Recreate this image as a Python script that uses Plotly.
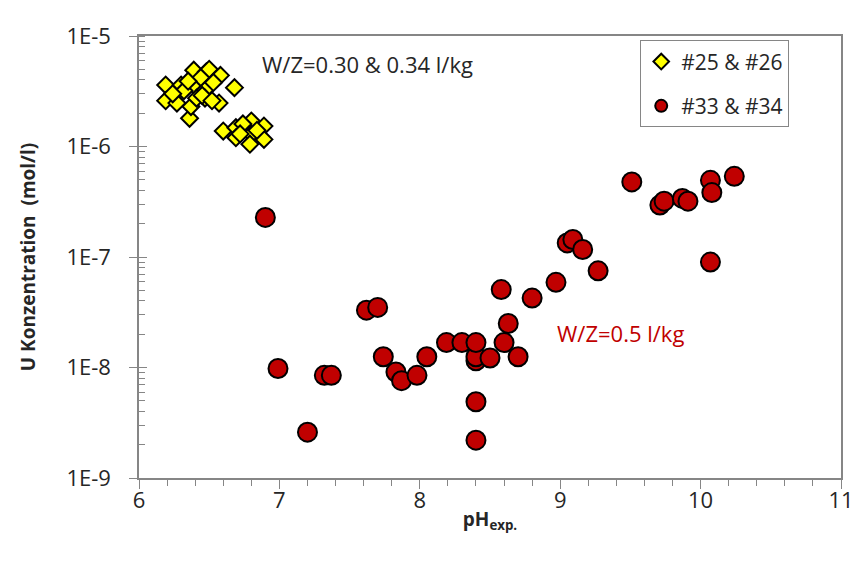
import plotly.graph_objects as go

# Yellow diamonds: #25 & #26 (W/Z = 0.30 & 0.34 l/kg)
ph_25_26 = [6.19, 6.19, 6.30, 6.27, 6.36, 6.39, 6.40, 6.37, 6.48, 6.50, 6.58, 6.47, 6.47, 6.57, 6.41, 6.68,
            6.32, 6.44, 6.53, 6.45, 6.24, 6.52, 6.35,
            6.60, 6.69, 6.80, 6.89, 6.80, 6.89, 6.69, 6.79, 6.74, 6.84, 6.72]
u_25_26 = [3.6e-6, 2.6e-6, 3.6e-6, 2.47e-6, 1.8e-6, 4.9e-6, 3.5e-6, 2.3e-6, 4.74e-6, 5.0e-6, 4.4e-6, 3.25e-6,
           2.74e-6, 2.47e-6, 2.74e-6, 3.41e-6,
           3.2e-6, 4.2e-6, 3.8e-6, 2.9e-6, 3.0e-6, 2.6e-6, 3.9e-6,
           1.38e-6, 1.48e-6, 1.7e-6, 1.53e-6, 1.29e-6, 1.16e-6, 1.2e-6, 1.05e-6, 1.6e-6, 1.4e-6, 1.3e-6]

# Red circles: #33 & #34 (W/Z = 0.5 l/kg)
ph_33_34 = [6.90, 6.99, 7.20, 7.32, 7.37, 7.62, 7.70, 7.74, 7.83, 7.87, 7.98, 8.05,
            8.19, 8.30, 8.40, 8.40, 8.40, 8.50, 8.40, 8.40, 8.58, 8.63, 8.60, 8.70, 8.80, 8.97,
            9.05, 9.09, 9.16, 9.27, 9.51, 9.71, 9.74, 9.87, 9.91, 10.07, 10.08, 10.24, 10.07]
u_33_34 = [2.28e-7, 9.8e-9, 2.6e-9, 8.5e-9, 8.5e-9, 3.3e-8, 3.5e-8, 1.25e-8, 9.1e-9, 7.6e-9, 8.5e-9, 1.25e-8,
           1.68e-8, 1.68e-8, 1.15e-8, 1.25e-8, 1.68e-8, 1.22e-8, 4.9e-9, 2.2e-9, 5.07e-8, 2.5e-8, 1.68e-8,
           1.25e-8, 4.25e-8, 5.9e-8,
           1.34e-7, 1.44e-7, 1.17e-7, 7.5e-8, 4.78e-7, 2.95e-7, 3.2e-7, 3.39e-7, 3.2e-7, 4.94e-7, 3.83e-7,
           5.37e-7, 9.0e-8]

x_ticks = [6, 7, 8, 9, 10, 11]
y_tickvals = [1e-9, 1e-8, 1e-7, 1e-6, 1e-5]
y_ticktext = ["1E-9", "1E-8", "1E-7", "1E-6", "1E-5"]

FONT = "Open Sans"
AXIS_COL = "#868686"
TXT = "#262626"

fig = go.Figure()
fig.add_trace(go.Scatter(
    x=ph_25_26, y=u_25_26, mode="markers", name="#25 & #26", legendgroup="a",
    marker=dict(symbol="diamond", size=13, color="#FFFF00", line=dict(color="black", width=2)),
))
fig.add_trace(go.Scatter(
    x=ph_33_34, y=u_33_34, mode="markers", name="#33 & #34", legendgroup="b",
    marker=dict(symbol="circle", size=19, color="#C00000", line=dict(color="black", width=2)),
))
# helper trace to carry the inner half of the y major ticks
fig.add_trace(go.Scatter(x=[6], y=[1e-5], yaxis="y2", mode="markers", marker=dict(opacity=0),
                         showlegend=False, hoverinfo="skip"))

fig.update_layout(
    width=858, height=563,
    margin=dict(l=131, r=14, t=22, b=93),
    paper_bgcolor="white", plot_bgcolor="white",
    font=dict(family=FONT, size=22, color=TXT),
    showlegend=True,
    legend=dict(
        x=0.714, y=0.99, xanchor="left", yanchor="top",
        bordercolor=AXIS_COL, borderwidth=1, bgcolor="white",
        font=dict(family=FONT, size=21, color=TXT),
        traceorder="grouped", tracegroupgap=14,
        itemsizing="constant",
    ),
    xaxis=dict(
        range=[6, 11], tickvals=x_ticks, ticks="outside", ticklen=9, tickcolor=AXIS_COL,
        showline=True, linecolor=AXIS_COL, linewidth=1.5, mirror=True,
        showgrid=False, zeroline=False,
        minor=dict(dtick=0.2, ticks="outside", ticklen=6, tickcolor=AXIS_COL, showgrid=False),
        tickfont=dict(size=22, color=TXT), ticklabelstandoff=-7,
        title=dict(text="<b>pH<sub>exp.</sub></b>", font=dict(size=19, color=TXT), standoff=0),
    ),
    yaxis=dict(
        type="log", range=[-9, -5], tickvals=y_tickvals, ticktext=y_ticktext,
        ticks="outside", ticklen=8, tickcolor=AXIS_COL,
        showline=True, linecolor=AXIS_COL, linewidth=1.5, mirror=True,
        showgrid=False, zeroline=False,
        minor=dict(dtick="D1", ticks="inside", ticklen=6, tickcolor=AXIS_COL, showgrid=False),
        tickfont=dict(size=22, color=TXT), ticklabelstandoff=14,
        title=dict(text="<b>U Konzentration  (mol/l)</b>", font=dict(size=19, color=TXT), standoff=26),
    ),
    yaxis2=dict(
        type="log", range=[-9, -5], overlaying="y", side="left", tickvals=y_tickvals,
        ticks="inside", ticklen=8, tickcolor=AXIS_COL, showticklabels=False,
        showline=False, showgrid=False, zeroline=False,
    ),
    annotations=[
        dict(x=6.86, y=-5.25, xref="x", yref="y", text="W/Z=0.30 & 0.34 l/kg", showarrow=False,
             xanchor="left", yanchor="middle", font=dict(size=22, color=TXT)),
        dict(x=8.96, y=-7.69, xref="x", yref="y", text="W/Z=0.5 l/kg", showarrow=False,
             xanchor="left", yanchor="middle", font=dict(size=22, color="#C00000")),
    ],
)

fig.write_html("out.html")
